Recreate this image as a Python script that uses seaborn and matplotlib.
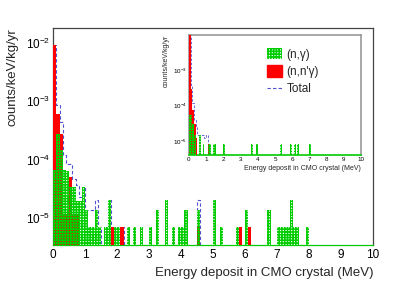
import numpy as np
import pandas as pd
import seaborn as sns
import matplotlib as mpl
import matplotlib.pyplot as plt

# main spectrum, 0.1 MeV bins (bin centres in MeV), rate in counts/keV/kg/yr
ng_energy = [0.05, 0.15, 0.25, 0.35, 0.45, 0.55, 0.65, 0.75, 0.85, 0.95,
             1.05, 1.15, 1.25, 1.35, 1.45, 1.65, 1.75, 1.95, 2.05, 2.35,
             2.55, 2.75, 3.05, 3.25, 3.55, 3.75, 3.95, 4.05, 4.15, 4.55,
             5.05, 5.25, 5.75, 6.05, 6.75, 7.05, 7.15, 7.25, 7.35, 7.45,
             7.55, 7.65, 7.95]
ng_rate = [6.6e-5, 2.8e-4, 1.5e-4, 6.6e-5, 6.4e-5, 3.4e-5, 3.4e-5, 2.0e-5, 2.0e-5, 3.4e-5,
           1.4e-5, 7e-6, 7e-6, 1.4e-5, 7e-6, 7e-6, 2.1e-5, 7e-6, 7e-6, 7e-6,
           7e-6, 7e-6, 7e-6, 1.4e-5, 2.1e-5, 7e-6, 7e-6, 7e-6, 1.4e-5, 1.4e-5,
           2.1e-5, 7e-6, 7e-6, 1.4e-5, 1.4e-5, 7e-6, 7e-6, 7e-6, 7e-6, 2.1e-5,
           7e-6, 7e-6, 7e-6]
nn_energy = [0.05, 0.15, 0.25, 0.35, 0.45, 0.55, 0.65, 0.75, 1.85, 2.15,
             4.55, 5.85, 6.15]
nn_rate = [9.3e-3, 6.2e-4, 2.8e-4, 1.2e-5, 1.2e-5, 5.1e-5, 1.2e-5, 1.2e-5, 7e-6, 7e-6,
           7e-6, 7e-6, 7e-6]
tot_energy = [0.05, 0.15, 0.25, 0.35, 0.45, 0.55, 0.65, 0.75, 0.85, 0.95,
              1.05, 1.15, 1.25, 1.35, 1.45, 1.65, 1.75, 1.85, 1.95, 2.05,
              2.15, 4.55]
tot_rate = [9.3e-3, 8.7e-4, 4.5e-4, 1.2e-4, 8.5e-5, 8.5e-5, 4.8e-5, 3.7e-5, 2.3e-5, 3.4e-5,
            1.4e-5, 1.4e-5, 1.4e-5, 2.1e-5, 7e-6, 7e-6, 2.1e-5, 7e-6, 7e-6, 7e-6,
            7e-6, 2.1e-5]

# inset spectrum
in_ng_energy = [0.05, 0.15, 0.25, 0.35, 0.65, 0.85, 1.15, 1.25, 1.45, 1.55,
                2.05, 3.65, 3.95, 5.35, 5.95, 6.15, 6.35, 7.05]
in_ng_rate = [5.4e-5, 5.4e-5, 3e-5, 1.5e-5, 1.5e-5, 8e-6, 8e-6, 8e-6, 8e-6, 8e-6,
              8e-6, 8e-6, 8e-6, 8e-6, 8e-6, 8e-6, 8e-6, 8e-6]
in_nn_energy = [0.05, 0.15, 0.25, 0.35, 0.45, 1.15]
in_nn_rate = [9.8e-3, 3e-4, 7.4e-5, 3e-5, 1.2e-5, 8e-6]
in_tot_energy = [0.05, 0.15, 0.25, 0.35, 0.45, 0.55, 0.65, 0.75, 0.85, 0.95, 1.05]
in_tot_rate = [9.8e-3, 3.5e-4, 1.2e-4, 4e-5, 2.5e-5, 1.5e-5, 1.5e-5, 1.5e-5, 1.5e-5, 1.2e-5, 1.5e-5]

green = "#00cc00"
red = "#ff0000"
blue = "#5050d0"
hatch = "++++++"

sns.set_style("white")
plt.rcParams["font.family"] = ["Liberation Sans", "DejaVu Sans"]
plt.rcParams["mathtext.default"] = "regular"
plt.rcParams["hatch.linewidth"] = 1.1


def draw_spectrum(ax, e_ng, r_ng, e_nn, r_nn, e_tot, r_tot, lw):
    bins = dict(binwidth=0.1, binrange=(0, 10))
    sns.histplot(x=e_tot, weights=r_tot, **bins, element="step", fill=False,
                 color=blue, linestyle=(0, (3, 2)), linewidth=lw, ax=ax, zorder=1)
    # white under-layer so the dashed total does not shine through the hatch
    sns.histplot(x=e_ng, weights=r_ng, **bins, color="white", alpha=1,
                 linewidth=0, ax=ax, zorder=2)
    sns.histplot(x=e_nn, weights=r_nn, **bins, color=red, alpha=1,
                 linewidth=0, ax=ax, zorder=3)
    n0 = len(ax.patches)
    sns.histplot(x=e_ng, weights=r_ng, **bins, color=green, alpha=1,
                 linewidth=0, ax=ax, zorder=4)
    for p in ax.patches[n0:]:
        p.set_facecolor("none")
        p.set_edgecolor(green)
        p.set_linewidth(0)
        p.set_hatch(hatch)
    ax.set_yscale("log")


fig = plt.figure(figsize=(4.15, 2.82), dpi=100)
ax = fig.add_axes([0.128, 0.131, 0.771, 0.770])
draw_spectrum(ax, ng_energy, ng_rate, nn_energy, nn_rate, tot_energy, tot_rate, 0.8)
ax.set_xlim(0, 10)
ax.set_ylim(3.5e-6, 0.018)
ax.set_xticks(range(0, 11))
ax.xaxis.set_minor_locator(mpl.ticker.MultipleLocator(0.2))
ax.tick_params(axis="both", which="both", direction="in", top=False, right=False,
               colors="#555555", labelcolor="black", labelsize=8.5)
ax.tick_params(axis="x", which="major", length=6, pad=3)
ax.tick_params(axis="x", which="minor", length=3)
ax.tick_params(axis="y", which="major", length=9, pad=2)
ax.tick_params(axis="y", which="minor", length=4)
ax.set_xlabel("Energy deposit in CMO crystal (MeV)", loc="right", fontsize=9.5, labelpad=4)
ax.set_ylabel("counts/keV/kg/yr", loc="top", fontsize=9.5, labelpad=5)
for s in ax.spines.values():
    s.set_color("#444444")
    s.set_linewidth(0.9)
ax.spines["bottom"].set_color(green)

# inset
ins = fig.add_axes([0.455, 0.450, 0.415, 0.426])
draw_spectrum(ins, in_ng_energy, in_ng_rate, in_nn_energy, in_nn_rate,
              in_tot_energy, in_tot_rate, 0.6)
ins.set_facecolor("white")
ins.set_xlim(0, 10)
ins.set_ylim(4e-6, 0.0098)
ins.set_xticks(range(0, 11))
ins.xaxis.set_minor_locator(mpl.ticker.MultipleLocator(0.2))
ins.tick_params(axis="both", which="both", direction="in", top=False, right=False,
                colors="#777777", labelcolor="black", labelsize=4.5)
ins.tick_params(axis="both", which="major", length=4, pad=1.5)
ins.tick_params(axis="both", which="minor", length=2)
ins.set_xlabel("Energy deposit in CMO crystal (MeV)", loc="right", fontsize=5, labelpad=2)
ins.set_ylabel("counts/keV/kg/yr", loc="top", fontsize=5, labelpad=2)
for s in ins.spines.values():
    s.set_color("#999999")
    s.set_linewidth(1.2)
ins.spines["bottom"].set_color(green)
ins.set_zorder(5)

handles = [mpl.patches.Patch(facecolor="none", edgecolor=green, hatch=hatch, linewidth=0),
           mpl.patches.Patch(facecolor=red, edgecolor=red),
           mpl.lines.Line2D([], [], color=blue, linestyle=(0, (3, 2)), linewidth=0.8)]
ins.legend(handles, ["(n,\u03b3)", "(n,n'\u03b3)", "Total"], loc="upper left",
           bbox_to_anchor=(0.39, 0.98), frameon=False, fontsize=8.5,
           handlelength=1.3, handleheight=1.1, handletextpad=0.4, labelspacing=0.4)

fig.savefig("out.png", dpi=100)
